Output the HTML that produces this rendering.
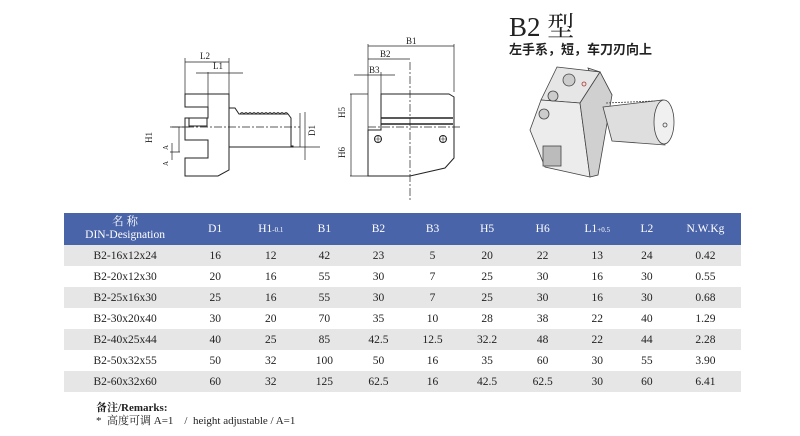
<!DOCTYPE html>
<html><head><meta charset="utf-8"><style>
body{margin:0;background:#fff;width:800px;height:436px;overflow:hidden;position:relative;font-family:"Liberation Serif","Noto Serif CJK SC",serif}
.t{position:absolute;color:#222}
table{position:absolute;left:64px;top:213px;width:677px;border-collapse:collapse;font-size:11.5px;color:#222;table-layout:fixed}
td{text-align:center;padding:0;height:21px}
tr.h td{background:#4a64a9;color:#fff;height:32px;font-size:11.5px}
tr.g td{background:#e6e6e6}
sub{font-size:7px;vertical-align:baseline}
</style></head><body>
<div class="t" style="left:509px;top:5px;font-size:27px">B2 型</div>
<div class="t" style="left:509px;top:39px;font-size:13px;font-family:'Noto Sans CJK SC',sans-serif;font-weight:bold">左手系，短，车刀刃向上</div>
<svg width="800" height="210" style="position:absolute;left:0;top:0" fill="none" stroke="#222" stroke-width="1" font-family="Liberation Serif" font-size="9">
<path d="M185 94H229V170L218 176H185V158H208V140H185V118H208V107H185Z M189 118H207V126H189Z" />
<path d="M229 108H235L239 114H288L291 118V146H293V147H229Z"/>
<path d="M240 114 q2 -3 4 0 q2 -3 4 0 q2 -3 4 0 q2 -3 4 0 q2 -3 4 0 q2 -3 4 0 q2 -3 4 0 q2 -3 4 0 q2 -3 4 0 q2 -3 4 0 q2 -3 4 0 q2 -3 4 0" stroke-width="0.8"/>
<path d="M172 127H300" stroke-dasharray="8 2 2 2" stroke-width="0.7"/>
<path d="M185 58V94M229 58V94M185 62H229M208 72V110M196 73H243" stroke-width="0.7"/>
<path d="M179 127V152M170 127H190M170 152H180M172 143V160" stroke-width="0.7"/>
<path d="M293 147H320M300 113V147M305 112V160" stroke-width="0.7"/>
<text x="200" y="59" stroke="none" fill="#222">L2</text><text x="213" y="69" stroke="none" fill="#222">L1</text>
<text x="152" y="143" stroke="none" fill="#222" transform="rotate(-90 152 143)">H1</text>
<text x="168" y="150" stroke="none" fill="#222" font-size="7" transform="rotate(-90 168 150)">A</text>
<text x="168" y="166" stroke="none" fill="#222" font-size="7" transform="rotate(-90 168 166)">A</text>
<text x="315" y="136" stroke="none" fill="#222" transform="rotate(-90 315 136)">D1</text>
<path d="M381 94H449L454 97V158L445 168L410 176H368V130H381Z" fill="#fff"/>
<path d="M381 118H453M381 124H453" stroke-width="1.5"/>
<path d="M368 127H460M410 62V200" stroke-dasharray="8 2 2 2" stroke-width="0.7"/>
<circle cx="378" cy="139" r="3.5"/><circle cx="443" cy="139" r="3.5"/>
<path d="M374 139H382M378 135V143M439 139H447M443 135V143" stroke-width="0.6"/>
<path d="M368 44V130M454 44V92M368 46H454M368 59H410M354 75H395M381 72V94M350 94H368M350 176H370M351 94V176" stroke-width="0.7"/>
<text x="406" y="44" stroke="none" fill="#222">B1</text><text x="380" y="57" stroke="none" fill="#222">B2</text><text x="369" y="73" stroke="none" fill="#222">B3</text>
<text x="345" y="118" stroke="none" fill="#222" transform="rotate(-90 345 118)">H5</text>
<text x="345" y="158" stroke="none" fill="#222" transform="rotate(-90 345 158)">H6</text>
<g stroke="#444" stroke-width="0.8">
<path d="M588 68L600 72L612 95L603 107Z" fill="#d8d8d8"/>
<path d="M557 67L600 72L580 103L541 100Z" fill="#e6e6e6"/>
<path d="M541 100L580 103L590 177L545 167L530 130Z" fill="#ececec"/>
<path d="M600 72L612 95L598 175L590 177L580 103Z" fill="#d0d0d0"/>
<path d="M603 107L663 100L665 145L612 141Z" fill="#dedede"/>
<path d="M606 103L655 101" stroke-dasharray="2 1"/>
<ellipse cx="664" cy="122" rx="10" ry="22" fill="#f0f0f0"/>
<circle cx="665" cy="125" r="2"/>
<circle cx="569" cy="80" r="6" fill="#ccc"/><circle cx="553" cy="96" r="5" fill="#ccc"/><circle cx="544" cy="114" r="5" fill="#ccc"/>
<circle cx="584" cy="84" r="2" stroke="#a33"/>
<rect x="543" y="146" width="18" height="20" fill="#bbb"/>
</g>
</svg>
<table>
<colgroup><col style="width:122px"><col style="width:58px"><col style="width:53px"><col style="width:54px"><col style="width:54px"><col style="width:54px"><col style="width:55px"><col style="width:56px"><col style="width:53px"><col style="width:46px"><col style="width:71px"></colgroup>
<tr class="h"><td style="line-height:13px">名 称<br>DIN-Designation</td><td>D1</td><td>H1<sub>-0.1</sub></td><td>B1</td><td>B2</td><td>B3</td><td>H5</td><td>H6</td><td>L1<sub>+0.5</sub></td><td>L2</td><td>N.W.Kg</td></tr>
<tr class="g"><td>B2-16x12x24</td><td>16</td><td>12</td><td>42</td><td>23</td><td>5</td><td>20</td><td>22</td><td>13</td><td>24</td><td>0.42</td></tr>
<tr><td>B2-20x12x30</td><td>20</td><td>16</td><td>55</td><td>30</td><td>7</td><td>25</td><td>30</td><td>16</td><td>30</td><td>0.55</td></tr>
<tr class="g"><td>B2-25x16x30</td><td>25</td><td>16</td><td>55</td><td>30</td><td>7</td><td>25</td><td>30</td><td>16</td><td>30</td><td>0.68</td></tr>
<tr><td>B2-30x20x40</td><td>30</td><td>20</td><td>70</td><td>35</td><td>10</td><td>28</td><td>38</td><td>22</td><td>40</td><td>1.29</td></tr>
<tr class="g"><td>B2-40x25x44</td><td>40</td><td>25</td><td>85</td><td>42.5</td><td>12.5</td><td>32.2</td><td>48</td><td>22</td><td>44</td><td>2.28</td></tr>
<tr><td>B2-50x32x55</td><td>50</td><td>32</td><td>100</td><td>50</td><td>16</td><td>35</td><td>60</td><td>30</td><td>55</td><td>3.90</td></tr>
<tr class="g"><td>B2-60x32x60</td><td>60</td><td>32</td><td>125</td><td>62.5</td><td>16</td><td>42.5</td><td>62.5</td><td>30</td><td>60</td><td>6.41</td></tr>
</table>
<div class="t" style="left:96px;top:399px;font-size:11px;font-weight:bold">备注/Remarks:</div>
<div class="t" style="left:96px;top:412px;font-size:11px">*&nbsp; 高度可调 A=1 &nbsp;&nbsp; / &nbsp;height adjustable / A=1</div>
</body></html>
